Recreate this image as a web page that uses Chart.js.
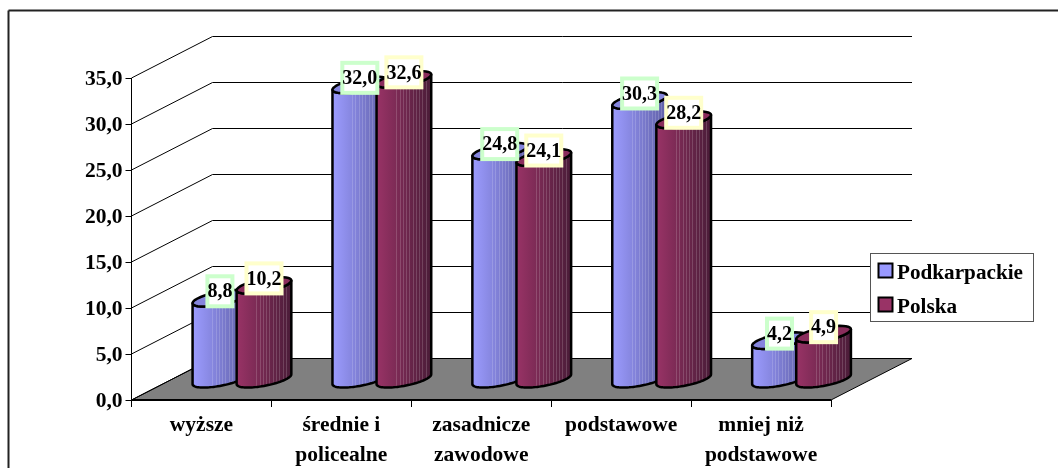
<!DOCTYPE html>
<html lang="pl">
<head>
<meta charset="utf-8">
<title>Wykształcenie</title>
<script src="https://cdn.jsdelivr.net/npm/chart.js@4"></script>
<style>
  html, body { margin: 0; padding: 0; background: #fff; }
  #wrap { position: relative; width: 1058px; height: 468px; }
</style>
</head>
<body>
<div id="wrap"><canvas id="chart" width="1058" height="468"></canvas></div>
<script>
const KATEGORIE = [
  ['wyższe'],
  ['średnie i', 'policealne'],
  ['zasadnicze', 'zawodowe'],
  ['podstawowe'],
  ['mniej niż', 'podstawowe'],
];
const PODKARPACKIE = [8.8, 32.0, 24.8, 30.3, 4.2];
const POLSKA       = [10.2, 32.6, 24.1, 28.2, 4.9];
const NAZWY_SERII  = ['Podkarpackie', 'Polska'];

const FONT = '"Liberation Serif", "Times New Roman", serif';

// kolory: [legenda/gora walca, lewy brzeg, prawy brzeg, ramka etykiety]
const KOLORY = [
  { top: '#8585dd', left: '#9c9cff', right: '#5f5fa6', label: '#ccffcc' },
  { top: '#8a2d5c', left: '#993366', right: '#4a1c38', label: '#ffffcc' },
];

// glebokosc "3D": przesuniecie tylnej sciany wzgledem osi
const DEPTH_X = 81;
const DEPTH_Y = -41.5;
const PAS = [0.36, 0.42, 0.48, 0.54, 0.6, 0.66, 0.72, 0.78, 0.84, 0.9];

function line(ctx, x1, y1, x2, y2) {
  ctx.beginPath();
  ctx.moveTo(x1, y1);
  ctx.lineTo(x2, y2);
  ctx.stroke();
}

function drawWalls(chart) {
  const { ctx, chartArea: a, scales: { y } } = chart;
  ctx.save();
  // podloga
  ctx.fillStyle = '#808080';
  ctx.beginPath();
  ctx.moveTo(a.left, a.bottom);
  ctx.lineTo(a.left + DEPTH_X, a.bottom + DEPTH_Y);
  ctx.lineTo(a.right + DEPTH_X, a.bottom + DEPTH_Y);
  ctx.lineTo(a.right, a.bottom);
  ctx.closePath();
  ctx.fill();
  ctx.strokeStyle = '#000';
  ctx.lineWidth = 1;
  ctx.stroke();
  // siatka na scianie bocznej i tylnej
  y.ticks.forEach(t => {
    const py = y.getPixelForValue(t.value);
    line(ctx, a.left, py, a.left + DEPTH_X, py + DEPTH_Y);
    line(ctx, a.left + DEPTH_X, py + DEPTH_Y, a.right + DEPTH_X, py + DEPTH_Y);
  });
  ctx.lineWidth = 2;
  line(ctx, a.left, a.bottom, a.right, a.bottom);
  ctx.restore();
}

function drawCylinder(ctx, bar, base, kolor) {
  const cx = bar.x + DEPTH_X / 2;
  const top = bar.y + DEPTH_Y / 2;
  const bottom = base + DEPTH_Y / 2;
  const a = bar.width / 2;
  const dx = DEPTH_X * 0.2;
  const dy = DEPTH_Y * 0.2;
  const t0 = Math.atan2(dx, a);
  const pt = (t, yc) => [cx + a * Math.cos(t) + dx * Math.sin(t), yc + dy * Math.sin(t)];
  const arc = (from, to, yc) => {
    for (let i = 0; i <= 40; i++) {
      const p = pt(from + (to - from) * i / 40, yc);
      ctx.lineTo(p[0], p[1]);
    }
  };
  const xl = pt(t0 - Math.PI, 0)[0];
  const xr = pt(t0, 0)[0];

  const body = () => {
    ctx.beginPath();
    arc(t0, t0 - Math.PI, bottom);
    arc(t0 - Math.PI, t0, top);
    ctx.closePath();
  };

  const grad = ctx.createLinearGradient(xl, 0, xr, 0);
  grad.addColorStop(0, kolor.left);
  grad.addColorStop(1, kolor.right);
  ctx.save();
  body();
  ctx.fillStyle = grad;
  ctx.fill();
  ctx.clip();
  ctx.strokeStyle = 'rgba(255,255,255,0.16)';
  ctx.lineWidth = 1;
  PAS.forEach(f => {
    const x = Math.round(xl + (xr - xl) * f) + 0.5;
    line(ctx, x, top - 20, x, bottom + 20);
  });
  ctx.restore();

  ctx.save();
  ctx.strokeStyle = '#000';
  ctx.lineWidth = 2.5;
  ctx.lineJoin = 'round';
  body();
  ctx.stroke();
  ctx.beginPath();
  arc(0, Math.PI * 2, top);
  ctx.closePath();
  ctx.fillStyle = kolor.top;
  ctx.fill();
  ctx.stroke();
  ctx.restore();
}

function drawLabel(ctx, bar, value, kolor) {
  const txt = value.toFixed(1).replace('.', ',');
  const cx = bar.x + DEPTH_X / 2;
  const cy = bar.y + DEPTH_Y / 2 - 7;
  ctx.save();
  ctx.font = 'bold 20px ' + FONT;
  const w = ctx.measureText(txt).width;
  const h = 30;
  ctx.fillStyle = '#fff';
  ctx.fillRect(cx - w / 2, cy - h / 2, w, h);
  ctx.strokeStyle = kolor.label;
  ctx.lineWidth = 4;
  ctx.strokeRect(cx - w / 2, cy - h / 2, w, h);
  ctx.fillStyle = '#000';
  ctx.textAlign = 'center';
  ctx.textBaseline = 'middle';
  ctx.fillText(txt, cx, cy + 1);
  ctx.restore();
}

function drawLegend(ctx) {
  ctx.save();
  ctx.fillStyle = '#fff';
  ctx.fillRect(870.5, 253.5, 163, 68);
  ctx.strokeStyle = '#555';
  ctx.lineWidth = 1;
  ctx.strokeRect(870.5, 253.5, 163, 68);
  ctx.font = 'bold 21.2px ' + FONT;
  ctx.textBaseline = 'alphabetic';
  NAZWY_SERII.forEach((nazwa, i) => {
    const y = 263.5 + i * 34;
    ctx.fillStyle = i === 0 ? '#9999ff' : '#993366';
    ctx.fillRect(878.5, y, 14, 14);
    ctx.strokeStyle = '#000';
    ctx.lineWidth = 2;
    ctx.strokeRect(878.5, y, 14, 14);
    ctx.fillStyle = '#000';
    ctx.fillText(nazwa, 897, y + 15);
  });
  ctx.restore();
}

const wykres3d = {
  id: 'wykres3d',
  beforeDraw(chart) {
    const ctx = chart.ctx;
    ctx.save();
    ctx.strokeStyle = '#222';
    ctx.lineWidth = 2;
    line(ctx, 8.5, 10.5, 1058, 10.5);
    line(ctx, 8.5, 10.5, 8.5, 468);
    ctx.restore();
  },
  beforeDatasetsDraw(chart) {
    const ctx = chart.ctx;
    drawWalls(chart);
    const metas = chart.data.datasets.map((_, i) => chart.getDatasetMeta(i));
    KATEGORIE.forEach((_, k) => {
      metas.forEach((m, i) => drawCylinder(ctx, m.data[k], chart.scales.y.getPixelForValue(0), KOLORY[i]));
    });
    drawLegend(ctx);
    KATEGORIE.forEach((_, k) => {
      metas.forEach((m, i) => drawLabel(ctx, m.data[k], chart.data.datasets[i].data[k], KOLORY[i]));
    });
    return false;
  },
};

new Chart(document.getElementById('chart'), {
  type: 'bar',
  data: {
    labels: KATEGORIE,
    datasets: [
      { label: NAZWY_SERII[0], data: PODKARPACKIE, backgroundColor: '#9999ff', categoryPercentage: 0.63, barPercentage: 1 },
      { label: NAZWY_SERII[1], data: POLSKA, backgroundColor: '#993366', categoryPercentage: 0.63, barPercentage: 1 },
    ],
  },
  options: {
    responsive: false,
    animation: false,
    layout: { padding: { left: 6, top: 78, right: 227, bottom: 0 } },
    plugins: { legend: { display: false }, tooltip: { enabled: false } },
    scales: {
      x: {
        afterFit: s => { s.height = 68; },
        border: { color: '#000' },
        grid: { drawOnChartArea: false, tickLength: 7, color: '#000' },
        ticks: {
          color: '#000', font: { family: FONT, size: 21.5, weight: 'bold', lineHeight: 1.38 },
          maxRotation: 0, autoSkip: false, padding: 4,
        },
      },
      y: {
        min: 0, max: 35,
        afterFit: s => { s.width = 125.5; },
        border: { color: '#000' },
        grid: { drawOnChartArea: false, tickLength: 6, color: '#000' },
        ticks: {
          stepSize: 5, color: '#000', padding: 3, labelOffset: 1.5,
          font: { family: FONT, size: 21.5, weight: 'bold' },
          callback: v => v.toFixed(1).replace('.', ','),
        },
      },
    },
  },
  plugins: [wykres3d],
});
</script>
</body>
</html>
